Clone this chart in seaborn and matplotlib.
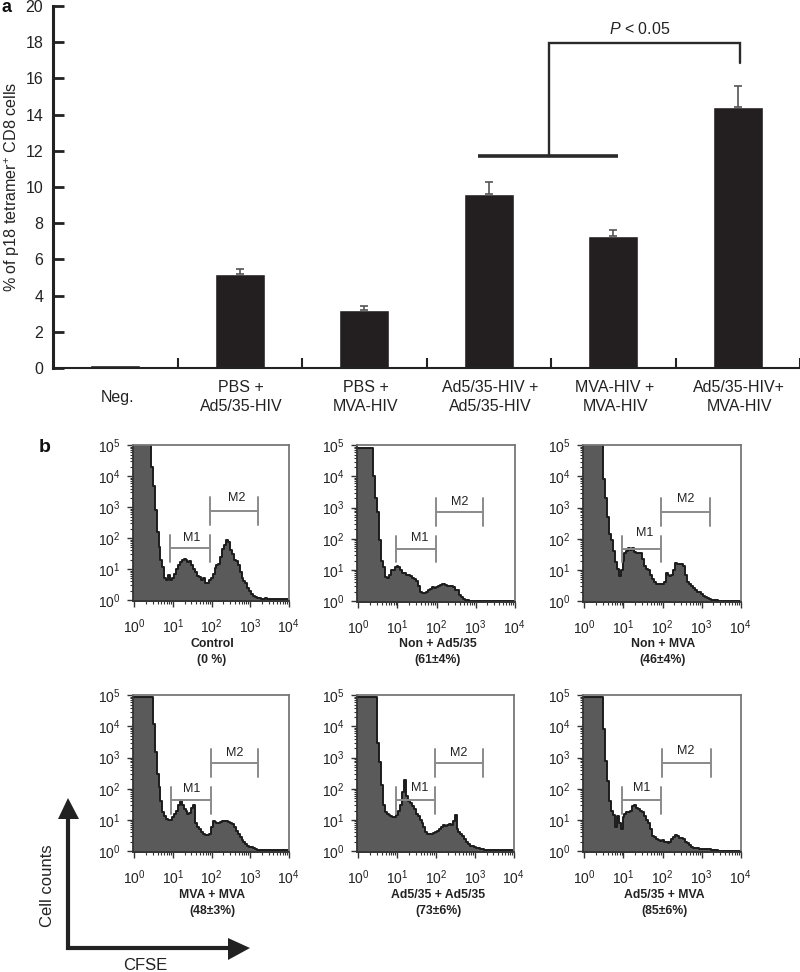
import numpy as np
import pandas as pd
import matplotlib
matplotlib.use("Agg")
import matplotlib.pyplot as plt
from matplotlib.ticker import LogLocator, NullFormatter, FixedLocator
import seaborn as sns

sns.set_style("ticks")
plt.rcParams['font.family'] = ['Liberation Sans', 'DejaVu Sans']
plt.rcParams['mathtext.fontset'] = 'custom'
plt.rcParams['mathtext.rm'] = 'Liberation Sans'
plt.rcParams['mathtext.it'] = 'Liberation Sans:italic'
plt.rcParams['mathtext.bf'] = 'Liberation Sans:bold'

# panel a data
groups = ["Neg.", "PBS +\nAd5/35-HIV", "PBS +\nMVA-HIV", "Ad5/35-HIV +\nAd5/35-HIV",
          "MVA-HIV +\nMVA-HIV", "Ad5/35-HIV+\nMVA-HIV"]
percent = [0.15, 5.2, 3.2, 9.6, 7.3, 14.4]
percent_err = [0, 0.25, 0.25, 0.65, 0.3, 1.2]

# panel b data, counts per 0.05 decade bin of CFSE (10^0 .. 10^4)
control = [2e5, 2e5, 2e5, 2e5, 2e5, 2e5, 2e5, 2e5, 2e5, 2e4,
           5000, 800, 160, 50, 20, 12, 5, 4.5, 6.5, 4.5,
           5, 7, 10, 14, 17, 20, 22, 20, 17, 18,
           14, 10, 8, 6, 5.5, 4.5, 5, 3.5, 3.5, 4.5,
           5, 7, 11, 14, 15, 24, 45, 60, 85, 75,
           40, 30, 20, 18, 14, 8, 5, 4, 3.5, 2.5,
           2, 1.6, 1.4, 1.25, 1.2, 1.15, 1.1, 1.1, 1.15, 1.1,
           1.1, 1.05, 1.1, 1.05, 1.05, 1.1, 1.05, 1.05, 1.1, 1.05,
           1.05]
non_ad = [8e4, 8e4, 8e4, 8e4, 8e4, 8e4, 8e4, 8e4, 1e4, 2000,
          700, 90, 20, 12, 6, 5.5, 7, 10, 10, 12,
          13, 12, 10, 8, 8, 7, 7, 6.5, 5.5, 5,
          4.5, 3, 2, 1.8, 1.8, 2, 2.2, 2.5, 2.8, 2.6,
          2.8, 3, 3.2, 3.6, 3.6, 3.3, 3.1, 3, 3, 2.9,
          2.3, 2.2, 1.6, 1.4, 1.2, 1.1, 1.05, 1.03, 1.03, 1.02,
          1.02, 1.02, 1.02, 1.02, 1.02, 1.02, 1.02, 1.02, 1.02, 1.02,
          1.02, 1.02, 1.02, 1.02, 1.02, 1.02, 1.02, 1.02, 1.02, 1.02,
          1.02]
non_mva = [2e5, 2e5, 2e5, 2e5, 2e5, 2e5, 2e5, 2e5, 2e5, 2e5,
           8000, 2000, 500, 140, 90, 40, 18, 11, 6.5, 10,
           20, 36, 40, 50, 45, 50, 38, 36, 36, 36,
           22, 13, 11, 10, 7, 5, 4, 3.6, 3.5, 3.5,
           3.5, 4, 8, 7, 6.5, 7, 10, 17, 16, 15,
           15, 13, 7, 4, 3.5, 3, 2.6, 2.2, 2, 1.9,
           1.7, 1.5, 1.35, 1.25, 1.2, 1.1, 1.08, 1.05, 1.05, 1.03,
           1.03, 1.03, 1.03, 1.03, 1.03, 1.03, 1.03, 1.03, 1.03, 1.03,
           1.03]
mva_mva = [9e4, 9e4, 9e4, 9e4, 9e4, 9e4, 9e4, 9e4, 9e4, 9e4,
           1.2e4, 1500, 300, 110, 40, 18, 13, 11, 10, 10,
           12, 16, 20, 30, 45, 30, 22, 20, 16, 17,
           25, 30, 8, 6, 5, 4, 3.5, 3.4, 3.2, 3.5,
           6, 9, 8.5, 8, 8, 8.5, 9, 9, 9, 8.5,
           8, 7.5, 6, 4.5, 3.5, 2.8, 2.2, 1.9, 1.7, 1.5,
           1.4, 1.35, 1.25, 1.15, 1.12, 1.1, 1.1, 1.1, 1.05, 1.05,
           1.05, 1.05, 1.05, 1.05, 1.05, 1.05, 1.05, 1.05, 1.05, 1.05,
           1.05]
ad_ad = [9e4, 9e4, 9e4, 9e4, 9e4, 9e4, 9e4, 9e4, 9e4, 9e4,
         3000, 700, 130, 30, 18, 15, 14, 13, 12, 12,
         14, 20, 30, 80, 190, 60, 40, 35, 28, 22,
         16, 13, 10, 8, 6, 4, 3.6, 3.5, 3.6, 3.8,
         4, 4.5, 5, 6, 7, 6.5, 7, 7.5, 7, 9,
         14, 5, 4, 3.6, 3, 2.5, 1.9, 1.7, 1.5, 1.5,
         1.4, 1.3, 1.25, 1.2, 1.15, 1.1, 1.1, 1.12, 1.08, 1.05,
         1.05, 1.05, 1.08, 1.05, 1.05, 1.05, 1.05, 1.05, 1.05, 1.05,
         1.05]
ad_mva = [9e4, 9e4, 9e4, 9e4, 9e4, 9e4, 9e4, 9e4, 9e4, 9e4,
          8000, 800, 180, 40, 20, 14, 6, 13, 8, 5,
          12, 16, 18, 18, 20, 28, 30, 24, 22, 20,
          18, 13, 10, 8, 5, 3, 2.8, 2.5, 2.2, 2.1,
          2.2, 2, 1.9, 1.8, 2, 2.4, 2.8, 3.4, 3, 2.6,
          2.6, 2.4, 2, 1.8, 1.6, 1.4, 1.3, 1.3, 1.25, 1.2,
          1.2, 1.2, 1.2, 1.15, 1.15, 1.1, 1.08, 1.05, 1.05, 1.03,
          1.03, 1.03, 1.03, 1.03, 1.03, 1.03, 1.03, 1.03, 1.03, 1.03,
          1.03]
cfse_bins = np.arange(81) * 0.05

hists = [control, non_ad, non_mva, mva_mva, ad_ad, ad_mva]
captions = ["Control\n(0 %)", "Non + Ad5/35\n(61±4%)", "Non + MVA\n(46±4%)",
            "MVA + MVA\n(48±3%)", "Ad5/35 + Ad5/35\n(73±6%)", "Ad5/35 + MVA\n(85±6%)"]
# gates in log10 units: x start, x end, y
m1_gates = [(.935, 1.965, 1.67), (.97, 1.98, 1.67), (.96, 1.97, 1.67),
            (.95, 1.98, 1.63), (.97, 1.97, 1.63), (.96, 1.97, 1.63)]
m2_gates = [(1.965, 3.19, 2.87), (1.98, 3.19, 2.87), (1.97, 3.2, 2.87),
            (1.98, 3.21, 2.84), (1.97, 3.2, 2.84), (1.99, 3.23, 2.84)]
m1_text = [(1.49, 1.99), (1.56, 2.04), (1.55, 2.2), (1.49, 2.0), (1.58, 2.04), (1.47, 2.04)]
m2_text = [(2.64, 3.3), (2.59, 3.17), (2.58, 3.28), (2.6, 3.16), (2.57, 3.16), (2.6, 3.2)]

# pixel boxes of the six histograms: left, right, top, bottom
boxes = [(133, 289, 445, 601), (357, 515, 445, 602), (583, 741, 445, 602),
         (133, 289, 695, 852), (357, 514, 695, 852), (583, 741, 695, 852)]
caption_x = [212, 438, 663, 212, 438, 664]
caption_y = [652, 652, 652, 903, 903, 903]

W, H = 800, 972
fig = plt.figure(figsize=(W / 100, H / 100), dpi=100)


def px_axes(left, right, top, bottom):
    return fig.add_axes([left / W, 1 - bottom / H, (right - left) / W, (bottom - top) / H])


# panel a
ax = px_axes(53, 800, 6, 368)
df = pd.DataFrame({"group": groups, "percent": percent})
sns.barplot(data=df, x="group", y="percent", color="#231f20", saturation=1, width=0.4, ax=ax)
ax.errorbar(range(1, 6), percent[1:], yerr=[[0] * 5, percent_err[1:]], fmt="none",
            ecolor="#555555", elinewidth=1.2, capsize=3, capthick=1.2)
ax.set_xlim(-0.5, 5.5)
ax.set_ylim(0, 20)
ax.set_xlabel("")
ax.set_ylabel("")
ax.set_yticks(range(0, 21, 2))
ax.xaxis.set_major_locator(FixedLocator(np.arange(0.5, 6)))
ax.xaxis.set_major_formatter(NullFormatter())
ax.tick_params(axis="y", direction="in", length=8, width=2, labelsize=11.5, pad=7, colors="#222222")
ax.tick_params(axis="x", direction="in", length=7, width=1.5, color="#222222")
sns.despine(ax=ax)
ax.spines["left"].set_linewidth(2.2)
ax.spines["bottom"].set_linewidth(1.5)
for s in ["left", "bottom"]:
    ax.spines[s].set_color("#222222")
# bracket
ax.plot([2.91, 4.04], [11.7, 11.7], color="#2a2a2a", lw=2.6, solid_capstyle="butt", clip_on=False)
ax.plot([3.48, 3.48, 5.02, 5.02], [11.7, 17.95, 17.95, 16.85], color="#2a2a2a", lw=1.7,
        solid_joinstyle="miter")

# panel b
for i, counts in enumerate(hists):
    ax = px_axes(*boxes[i])
    ax.set_xscale("log")
    ax.set_yscale("log")
    xs = 10 ** np.r_[-0.05, cfse_bins]
    ys = np.r_[counts[0], counts]
    ax.fill_between(xs, ys, 0.5, step="mid", color="#5a5a5a", lw=0)
    sns.lineplot(x=xs, y=ys, drawstyle="steps-mid", color="#1c1c1c", linewidth=1.4,
                 errorbar=None, ax=ax)
    ax.set_xlim(10 ** -0.035, 10 ** 4.005)
    ax.set_ylim(10 ** -0.03, 10 ** 5.01)
    ax.set_xlabel("")
    ax.set_ylabel("")
    ax.xaxis.set_major_locator(LogLocator(base=10, numticks=6))
    ax.yaxis.set_major_locator(LogLocator(base=10, numticks=7))
    ax.xaxis.set_minor_locator(LogLocator(base=10, subs=np.arange(2, 10), numticks=6))
    ax.yaxis.set_minor_locator(LogLocator(base=10, subs=np.arange(2, 10), numticks=7))
    ax.xaxis.set_minor_formatter(NullFormatter())
    ax.yaxis.set_minor_formatter(NullFormatter())
    ax.tick_params(axis="both", which="major", labelsize=10, length=4, width=1, color="#333333",
                   labelcolor="#222222", pad=5)
    ax.tick_params(axis="both", which="minor", length=2, width=0.8, color="#333333")
    ax.tick_params(axis="x", which="major", pad=8)
    for s in ["top", "right"]:
        ax.spines[s].set_color("#777777")
        ax.spines[s].set_linewidth(1.3)
    for s in ["left", "bottom"]:
        ax.spines[s].set_color("#333333")
        ax.spines[s].set_linewidth(1.3)
    for (x0, x1, y), (tx, ty), lab, cap in [(m1_gates[i], m1_text[i], "M1", 0.43),
                                            (m2_gates[i], m2_text[i], "M2", 0.45)]:
        ax.plot([10 ** x0, 10 ** x1], [10 ** y, 10 ** y], color="#8a8a8a", lw=1.4)
        for xc in (x0, x1):
            ax.plot([10 ** xc, 10 ** xc], [10 ** (y - cap), 10 ** (y + cap)], color="#8a8a8a", lw=1.4)
        ax.text(10 ** tx, 10 ** ty, lab, fontsize=9, color="#222222", ha="center", va="center")

# overlay in pixels, for the labels and arrows
ov = fig.add_axes([0, 0, 1, 1], zorder=5)
ov.set_xlim(0, W)
ov.set_ylim(H, 0)
ov.axis("off")
ov.patch.set_alpha(0)

label_x = [118, 241, 366, 490, 615, 739]
for x, g in zip(label_x, groups):
    ov.text(x, 397, g, fontsize=11.5, color="#222222", ha="center", va="center", linespacing=1.3)
ov.text(640, 29, r"$\mathit{P}$ < 0.05", fontsize=11.5, color="#222222", ha="center", va="center")
ov.text(12, 187, "% of p18 tetramer$^{+}$ CD8 cells", rotation=90, fontsize=11.6, color="#222222",
        ha="center", va="center")
ov.text(1, 8, "a", fontsize=13, fontweight="bold", color="#111111", ha="left", va="center")
ov.text(39, 447, "b", fontsize=14, fontweight="bold", color="#111111", ha="left", va="center")

for x, y, cap in zip(caption_x, caption_y, captions):
    ov.text(x, y, cap, fontsize=8.8, fontweight="bold", color="#222222", ha="center", va="center",
            linespacing=1.5)

ov.plot([68, 68, 232], [816, 948, 948], color="#222222", lw=3, solid_joinstyle="miter")
ov.fill([68, 58, 79], [798, 819, 819], color="#222222", lw=0)
ov.fill([250, 228, 228], [948, 938, 960], color="#222222", lw=0)
ov.text(47, 886, "Cell counts", rotation=90, fontsize=12, color="#222222", ha="center", va="center")
ov.text(145, 965, "CFSE", fontsize=12, color="#222222", ha="center", va="center")

fig.savefig("out.png", dpi=100)
